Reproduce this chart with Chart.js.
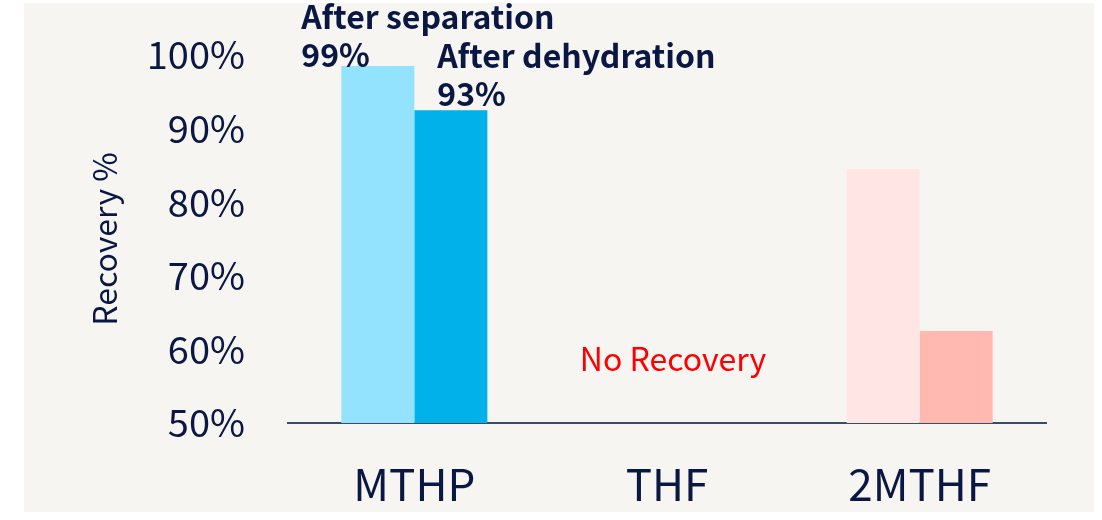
<!DOCTYPE html>
<html>
<head>
<meta charset="utf-8">
<script src="https://cdn.jsdelivr.net/npm/chart.js@4"></script>
<style>
  html, body { margin: 0; padding: 0; background: #ffffff; }
  #panel {
    position: absolute; left: 24px; top: 3px;
    width: 1070px; height: 509px;
    background: #f6f5f2;
  }
  #recoveryChart { display: block; }
</style>
</head>
<body>
<div id="panel">
  <canvas id="recoveryChart" width="1070" height="509"></canvas>
</div>
<script>
// Data
const categories = ['MTHP', 'THF', '2MTHF'];
const afterSeparation = [98.5, 50, 84.5];
const afterDehydration = [92.5, 50, 62.5];
const yTicks = [50, 60, 70, 80, 90, 100];

// Label di atas batang MTHP
const mthpNotes = [
  ['After separation', '99%'],
  ['After dehydration', '93%']
];
const thfNote = 'No Recovery';
const thfNoteValue = 58.5;

const navy = '#0a1742';
const fontName = '"Noto Sans CJK JP"';

// Plugin sederhana untuk menggambar teks tambahan
const notesPlugin = {
  id: 'notes',
  afterDatasetsDraw(chart) {
    const ctx = chart.ctx;
    const x = chart.scales.x;
    const y = chart.scales.y;
    const offsets = [{ dx: -40, dy: 1 }, { dx: 23, dy: -4 }];

    ctx.save();
    ctx.font = 'bold 32px ' + fontName;
    ctx.fillStyle = navy;
    ctx.textAlign = 'left';
    ctx.textBaseline = 'alphabetic';
    mthpNotes.forEach((lines, i) => {
      const bar = chart.getDatasetMeta(i).data[0];
      const left = bar.x - bar.width / 2 + offsets[i].dx;
      const base = bar.y + offsets[i].dy;
      ctx.fillText(lines[0], left, base - 38);
      ctx.fillText(lines[1], left, base);
    });

    ctx.font = '32px ' + fontName;
    ctx.fillStyle = '#ff0000';
    ctx.textAlign = 'center';
    ctx.textBaseline = 'alphabetic';
    ctx.fillText(thfNote, x.getPixelForValue(1) + 6, y.getPixelForValue(thfNoteValue) + 11);
    ctx.restore();
  }
};

const ctx = document.getElementById('recoveryChart').getContext('2d');

const recoveryChart = new Chart(ctx, {
  type: 'bar',
  data: {
    labels: categories,
    datasets: [{
      label: 'After separation',
      data: afterSeparation,
      backgroundColor: ['#94e3fe', '#94e3fe', '#ffe6e4']
    }, {
      label: 'After dehydration',
      data: afterDehydration,
      backgroundColor: ['#00b1ea', '#00b1ea', '#ffb9b1']
    }]
  },
  options: {
    responsive: false,
    animation: false,
    layout: { padding: { left: 50, right: 48, top: 52, bottom: 0 } },
    plugins: {
      legend: { display: false },
      tooltip: { enabled: false }
    },
    datasets: {
      bar: { categoryPercentage: 0.578, barPercentage: 1 }
    },
    scales: {
      x: {
        afterFit(scale) {
          scale.height = 89;
        },
        grid: { display: false },
        border: { display: true, color: '#3b4a70', width: 2 },
        ticks: {
          color: navy,
          font: { family: 'Noto Sans CJK JP', size: 44 },
          padding: 27
        }
      },
      y: {
        min: 50,
        max: 100,
        afterBuildTicks(scale) {
          scale.ticks = yTicks.map(v => ({ value: v }));
        },
        afterFit(scale) {
          // lebar sumbu tetap, dan jangan tambah padding atas dari label
          scale.width = 214;
          scale.paddingTop = 0;
        },
        grid: { display: false },
        border: { display: false },
        ticks: {
          color: navy,
          font: { family: 'Noto Sans CJK JP', size: 38 },
          padding: 35,
          callback: v => v + '%'
        },
        title: {
          display: true,
          text: 'Recovery %',
          color: navy,
          font: { family: 'Noto Sans CJK JP', size: 32 },
          padding: { top: 12, bottom: 0 }
        }
      }
    }
  },
  plugins: [notesPlugin]
});
</script>
</body>
</html>
